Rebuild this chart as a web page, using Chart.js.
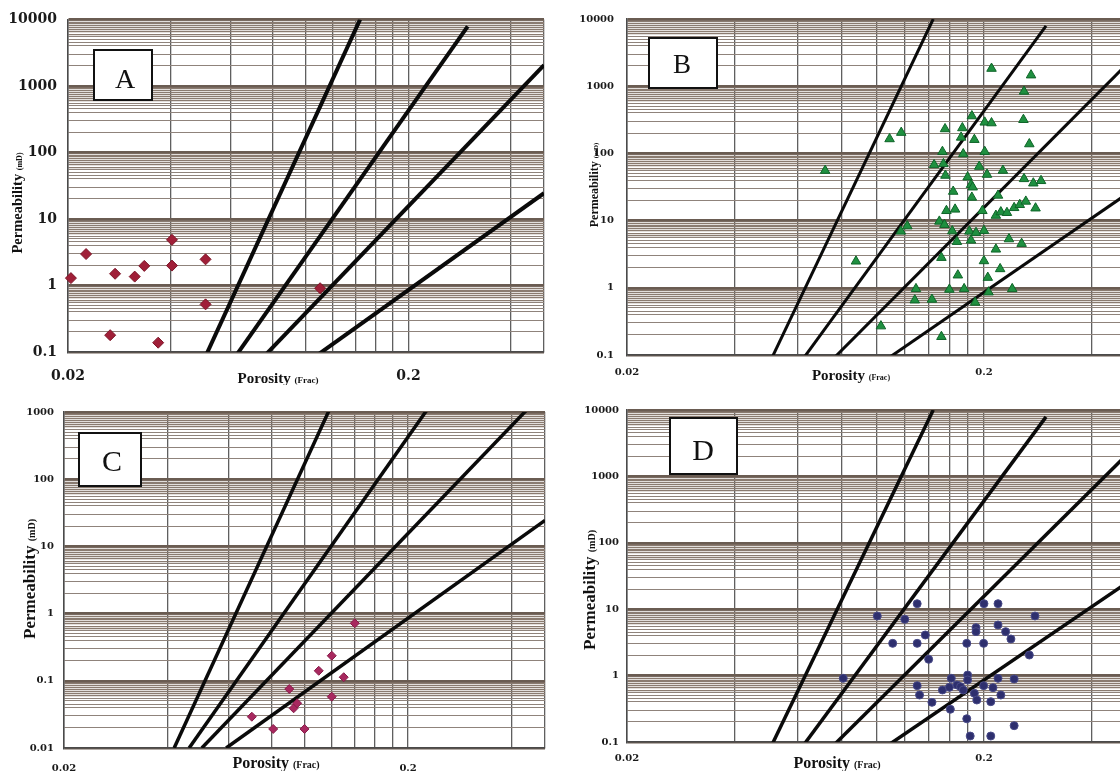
<!DOCTYPE html>
<html>
<head>
<meta charset="utf-8">
<script src="https://cdn.jsdelivr.net/npm/chart.js@4.4.1/dist/chart.umd.min.js"></script>
<style>
  html, body { margin: 0; padding: 0; background: #fff; overflow: hidden; }
  body { width: 1120px; height: 771px; position: relative; }
  canvas { position: absolute; }
</style>
</head>
<body>
<canvas id="chartA" width="560" height="385" style="left:0;top:0;width:560px;height:385px"></canvas>
<canvas id="chartB" width="580" height="385" style="left:560px;top:0;width:580px;height:385px"></canvas>
<canvas id="chartC" width="560" height="386" style="left:0;top:385px;width:560px;height:386px"></canvas>
<canvas id="chartD" width="580" height="386" style="left:560px;top:385px;width:580px;height:386px"></canvas>
<script>
// axis grid + labelled ticks
const porosityGrid = [0.02, 0.04, 0.06, 0.08, 0.1, 0.12, 0.14, 0.16, 0.18, 0.2, 0.4, 0.5]
const porosityLabels = ["0.02", "0.2"]
const permMantissas = [1, 2, 3, 4, 4.5, 5, 5.5, 6, 6.5, 7, 7.5, 8, 8.5, 9, 9.5]
const permLabels = ["0.1", "1", "10", "100", "1000", "10000"]
const permLabelsC = ["0.01", "0.1", "1", "10", "100", "1000"]

// the four black lines, end points (porosity frac, permeability mD)
const lineStartPhi = [0.0418, 0.0462, 0.0503, 0.0592]
const lineStartK = [0.01, 0.01, 0.01, 0.01]
const lineEndPhi = [0.1442, 0.2985, 0.5, 0.5]
const lineEndK = [10000, 7870, 2057, 24.4]

// panel A
const phiA = [0.0204, 0.0226, 0.0266, 0.0275, 0.0314, 0.0335, 0.0368, 0.0404, 0.0404, 0.0507, 0.0507, 0.110]
const permA = [1.29, 2.97, 0.179, 1.5, 1.36, 1.97, 0.138, 4.86, 1.99, 2.47, 0.52, 0.91]

// panel B
const phiB = [0.0718, 0.1088, 0.1173, 0.0876, 0.1029, 0.210, 0.271, 0.259, 0.185, 0.201,
  0.210, 0.258, 0.1556, 0.174, 0.1726, 0.188, 0.268, 0.153, 0.175, 0.201,
  0.145, 0.154, 0.194, 0.226, 0.156, 0.180, 0.204, 0.259, 0.275, 0.289,
  0.184, 0.186, 0.164, 0.219, 0.185, 0.157, 0.166, 0.198, 0.216, 0.223,
  0.232, 0.243, 0.252, 0.262, 0.279, 0.122, 0.117, 0.150, 0.155, 0.163,
  0.182, 0.190, 0.200, 0.168, 0.184, 0.235, 0.255, 0.216, 0.152, 0.200,
  0.222, 0.169, 0.205, 0.129, 0.160, 0.176, 0.206, 0.240, 0.128, 0.143,
  0.189, 0.152]
const permB = [55.5, 164, 204, 2.48, 0.269, 1832, 1460, 835, 360, 290,
  283, 317, 231, 239, 173, 160, 138, 106, 98, 106,
  67.5, 69.8, 63.7, 55.6, 46.9, 44.2, 48.5, 41.8, 36, 39.1,
  34.1, 31.4, 27.1, 23.7, 22.1, 14.0, 14.7, 14.0, 11.9, 13.4,
  13.1, 15.5, 17.2, 19.3, 15.3, 8.29, 6.92, 9.73, 8.69, 6.98,
  6.92, 6.61, 7.08, 4.86, 5.08, 5.32, 4.54, 3.74, 2.81, 2.51,
  1.91, 1.54, 1.42, 0.964, 0.944, 0.964, 0.861, 0.964, 0.655, 0.670,
  0.605, 0.187]

// panel C
const phiC = [0.0703, 0.0811, 0.0903, 0.093, 0.0952, 0.100, 0.110, 0.120, 0.120, 0.130, 0.140]
const permC = [0.0292, 0.0192, 0.0755, 0.039, 0.0463, 0.0192, 0.141, 0.236, 0.058, 0.113, 0.718]

// panel D
const phiD = [0.130, 0.200, 0.219, 0.1005, 0.120, 0.278, 0.190, 0.190, 0.219, 0.230,
  0.238, 0.137, 0.111, 0.130, 0.179, 0.1996, 0.140, 0.268, 0.0807, 0.162,
  0.180, 0.180, 0.219, 0.243, 0.130, 0.153, 0.160, 0.168, 0.172, 0.175,
  0.1996, 0.212, 0.132, 0.188, 0.191, 0.223, 0.143, 0.209, 0.161, 0.179,
  0.243, 0.183, 0.209]
const permD = [12.1, 12.1, 12.1, 7.9, 7.04, 7.9, 5.27, 4.59, 5.78, 4.59,
  3.56, 4.09, 3.06, 3.06, 3.06, 3.06, 1.76, 2.04, 0.91, 0.91,
  1.02, 0.859, 0.91, 0.889, 0.705, 0.607, 0.666, 0.722, 0.681, 0.607,
  0.705, 0.658, 0.51, 0.541, 0.429, 0.51, 0.396, 0.405, 0.311, 0.224,
  0.176, 0.123, 0.123]

const SERIF = '"Liberation Serif", "Times New Roman", serif'
const TICKFONT = '"DejaVu Serif", serif'

function mantissa(v) {
  const l = Math.log10(v)
  return Math.pow(10, l - Math.floor(l + 1e-9))
}

function isDecade(v) {
  const l = Math.log10(v)
  return Math.abs(l - Math.round(l)) < 1e-6
}

function labelFor(list, v) {
  const hit = list.find(l => Math.abs(Number(l) - v) < v * 1e-6)
  return hit || ""
}

function permTicks(min, max) {
  const out = []
  for (let e = Math.round(Math.log10(min)); e < Math.round(Math.log10(max)); e++) {
    permMantissas.forEach(m => out.push({ value: m * Math.pow(10, e) }))
  }
  out.push({ value: max })
  return out
}

function hGridColor(c) {
  if (!c.tick) return "#978a81"
  if (isDecade(c.tick.value)) return "#6a5c52"
  return mantissa(c.tick.value) > 5.9 ? "#8a7b70" : "#8f837b"
}

function hGridWidth(c) {
  if (!c.tick) return 1
  if (isDecade(c.tick.value)) return 2.5
  return mantissa(c.tick.value) > 5.9 ? 1.3 : 1.1
}

function drawTitle(ctx, big, small, t) {
  ctx.font = `bold ${t.size}px ${SERIF}`
  const w1 = ctx.measureText(big + " ").width
  ctx.font = `bold ${t.small}px ${SERIF}`
  const w2 = ctx.measureText(small).width
  const x = t.x - (w1 + w2) / 2
  const y = t.y + t.size * 0.33
  ctx.textAlign = "left"
  ctx.textBaseline = "alphabetic"
  ctx.fillStyle = "#111"
  ctx.font = `bold ${t.size}px ${SERIF}`
  ctx.fillText(big, x, y)
  ctx.font = `bold ${t.small}px ${SERIF}`
  ctx.fillText(small, x + w1, y)
}

// letter box and the two axis titles
const panelText = {
  id: "panelText",
  afterDraw(chart, args, opts) {
    const ctx = chart.ctx
    ctx.save()
    const [bx, by, bw, bh] = opts.box
    ctx.fillStyle = "#fff"
    ctx.fillRect(bx, by, bw, bh)
    ctx.strokeStyle = "#111"
    ctx.lineWidth = 2
    ctx.strokeRect(bx, by, bw, bh)
    ctx.fillStyle = "#111"
    ctx.font = `${opts.letterSize}px ${SERIF}`
    ctx.textAlign = "center"
    ctx.textBaseline = "middle"
    ctx.fillText(opts.letter, opts.letterAt[0], opts.letterAt[1])

    drawTitle(ctx, "Porosity", "(Frac)", opts.xTitle)
    ctx.translate(opts.yTitle.x, opts.yTitle.y)
    ctx.rotate(-Math.PI / 2)
    drawTitle(ctx, "Permeability", "(mD)", { ...opts.yTitle, x: 0, y: 0 })
    ctx.restore()
  },
}

function makePanel(canvasId, p) {
  return new Chart(document.getElementById(canvasId), {
    type: "scatter",
    data: {
      datasets: [
        {
          data: p.phi.map((x, i) => ({ x: x, y: p.perm[i] })),
          pointStyle: p.marker,
          pointRadius: p.radius,
          backgroundColor: p.color,
          borderColor: p.edge,
          borderWidth: 1,
          clip: false,
          order: 0,
        },
        ...lineStartPhi.map((x0, i) => ({
          data: [{ x: x0, y: lineStartK[i] }, { x: lineEndPhi[i], y: lineEndK[i] }],
          showLine: true,
          pointRadius: 0,
          borderColor: "#0a0a0a",
          borderWidth: p.lineWidth,
          clip: 0,
          order: 1,
        })),
      ],
    },
    options: {
      responsive: false,
      animation: false,
      events: [],
      layout: { padding: { top: p.padTop, right: p.padRight, bottom: 0, left: 0 } },
      plugins: {
        legend: { display: false },
        tooltip: { enabled: false },
        panelText: p.text,
      },
      scales: {
        x: {
          type: "logarithmic",
          min: 0.02,
          max: 0.5,
          afterBuildTicks: s => { s.ticks = porosityGrid.map(v => ({ value: v })) },
          afterFit: s => { s.height = p.xAxisH },
          ticks: {
            autoSkip: false,
            maxRotation: 0,
            padding: p.xPad,
            color: "#1a1a1a",
            font: { family: TICKFONT, weight: "bold", size: p.tickSize },
            callback: v => labelFor(porosityLabels, v),
          },
          grid: { color: "#5f5f5f", lineWidth: 1.3, drawTicks: false },
          border: { color: "#4a4a4a", width: 1.5 },
        },
        y: {
          type: "logarithmic",
          min: p.yMin,
          max: p.yMax,
          afterBuildTicks: s => { s.ticks = permTicks(p.yMin, p.yMax) },
          afterFit: s => { s.width = p.yAxisW },
          ticks: {
            autoSkip: false,
            padding: p.yPad,
            color: "#1a1a1a",
            font: { family: TICKFONT, weight: "bold", size: p.tickSize },
            callback: v => labelFor(p.yLabels, v),
          },
          grid: { drawTicks: false, color: hGridColor, lineWidth: hGridWidth },
          border: { color: "#4a4a4a", width: 1.5 },
        },
      },
    },
    plugins: [panelText],
  })
}

makePanel("chartA", {
  phi: phiA, perm: permA, marker: "rectRot", radius: 5.5, color: "#a01f38", edge: "#7c1527",
  lineWidth: 4, yMin: 0.1, yMax: 10000, yLabels: permLabels,
  padTop: 17, padRight: 10, xAxisH: 33, yAxisW: 68, xPad: 16, yPad: 11, tickSize: 14,
  text: {
    letter: "A", box: [94, 50, 58, 50], letterAt: [125, 81], letterSize: 28,
    xTitle: { x: 278, y: 378, size: 15, small: 9 },
    yTitle: { x: 17, y: 203, size: 14.5, small: 8 },
  },
})

makePanel("chartB", {
  phi: phiB, perm: permB, marker: "triangle", radius: 5.5, color: "#1f9040", edge: "#0e6428",
  lineWidth: 3, yMin: 0.1, yMax: 10000, yLabels: permLabels,
  padTop: 18, padRight: 14, xAxisH: 30, yAxisW: 67, xPad: 11, yPad: 13, tickSize: 10,
  text: {
    letter: "B", box: [89, 38, 68, 50], letterAt: [122, 66], letterSize: 27,
    xTitle: { x: 291, y: 375, size: 15, small: 8 },
    yTitle: { x: 34, y: 185, size: 12, small: 7 },
  },
})

makePanel("chartC", {
  phi: phiC, perm: permC, marker: "rectRot", radius: 4.5, color: "#a8285f", edge: "#861b49",
  lineWidth: 3.5, yMin: 0.01, yMax: 1000, yLabels: permLabelsC,
  padTop: 27, padRight: 15, xAxisH: 23, yAxisW: 64, xPad: 14, yPad: 10, tickSize: 10,
  text: {
    letter: "C", box: [79, 48, 62, 53], letterAt: [112, 78], letterSize: 30,
    xTitle: { x: 276, y: 378, size: 16, small: 10 },
    yTitle: { x: 29, y: 194, size: 17, small: 10 },
  },
})

makePanel("chartD", {
  phi: phiD, perm: permD, marker: "circle", radius: 4, color: "#2e2f6e", edge: "#494b88",
  lineWidth: 3.5, yMin: 0.1, yMax: 10000, yLabels: permLabels,
  padTop: 25, padRight: 14, xAxisH: 29, yAxisW: 67, xPad: 10, yPad: 8, tickSize: 10,
  text: {
    letter: "D", box: [110, 33, 67, 56], letterAt: [143, 67], letterSize: 30,
    xTitle: { x: 277, y: 378, size: 16, small: 10 },
    yTitle: { x: 29, y: 205, size: 17, small: 10 },
  },
})
</script>
</body>
</html>
